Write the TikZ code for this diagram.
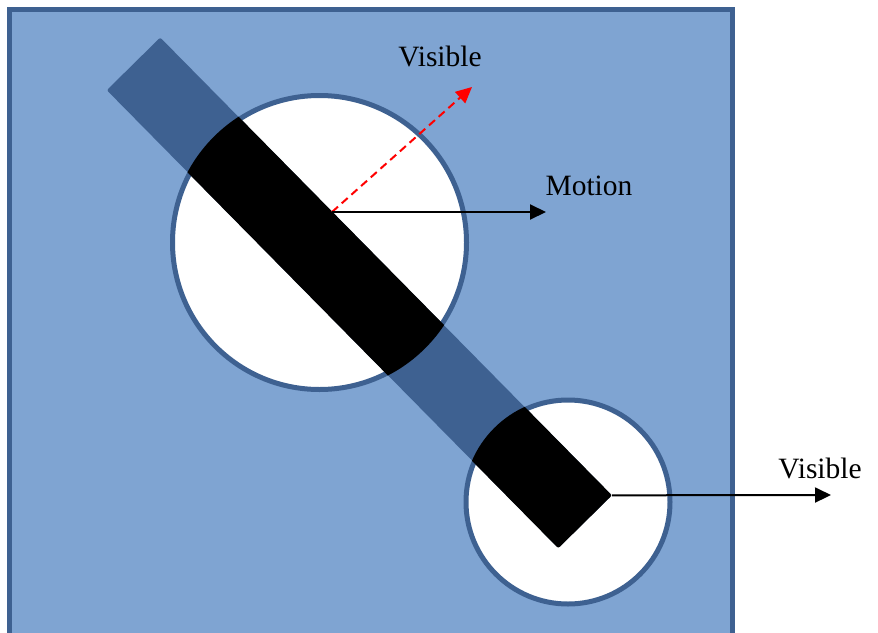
\documentclass[tikz,border=0pt]{standalone}
\usepackage{fontspec}
\setmainfont{Liberation Serif}
\usetikzlibrary{arrows.meta}

\definecolor{paneblue}{HTML}{7FA4D2}
\definecolor{rimblue}{HTML}{3E6191}

\begin{document}
\begin{tikzpicture}[
  x=1pt,y=-1pt,
  font=\fontsize{29.5}{31}\selectfont,
  >={Triangle[length=16pt,width=15pt]},
  pane/.style={draw=rimblue,line width=5pt,fill=paneblue},
  hole/.style={circle,draw=rimblue,line width=5pt,fill=white,inner sep=0pt},
  rod/.style={rectangle,fill=rimblue,rounded corners=2pt,inner sep=0pt,
              minimum width=643pt,minimum height=75pt,rotate=-45.4},
  move/.style={->,line width=2pt,draw=black},
  seen/.style={->,line width=2pt,draw=red,dash pattern=on 8pt off 5pt},
  lbl/.style={inner sep=1pt},
]

\useasboundingbox (0,0) rectangle (878,632);

% ---- backdrop: the screen, running off the bottom edge ----
\begin{scope}
  \clip (0,0) rectangle (878,632);
  \draw[pane] (9,9.5) rectangle (732,660);
\end{scope}

% ---- the two apertures ----
\node[hole,minimum size=294pt] (big) at (319.5,242.5) {};
\node[hole,minimum size=204pt] (small) at (568,502) {};

% the slanted rod, dark behind the screen
\node[rod] (rod) at (359.25,292.75) {};

% rod seen through the apertures
\begin{scope}
  \clip (big.center) circle[radius=149.5pt] (small.center) circle[radius=104.5pt];
  \fill[black,rounded corners=2pt] (rod.north west) -- (rod.north east)
       -- (rod.south east) -- (rod.south west) -- cycle;
\end{scope}

% ---- arrows ----
\coordinate (hit) at (332,212);
\coordinate (upTip) at (472,87);
\coordinate (moveTip) at (546,212);
\coordinate (sideTip) at (831,495);

\draw[seen] (hit) -- (upTip);
\draw[move] (hit) -- (moveTip);
\draw[move] (rod.north east) -- (sideTip);

% ---- labels ----
\node[lbl] (visTop) at (440,56) {Visible};
\node[lbl] (motion) at (589,186) {Motion};
\node[lbl] (visSide) at (820,468) {Visible};

\end{tikzpicture}
\end{document}
